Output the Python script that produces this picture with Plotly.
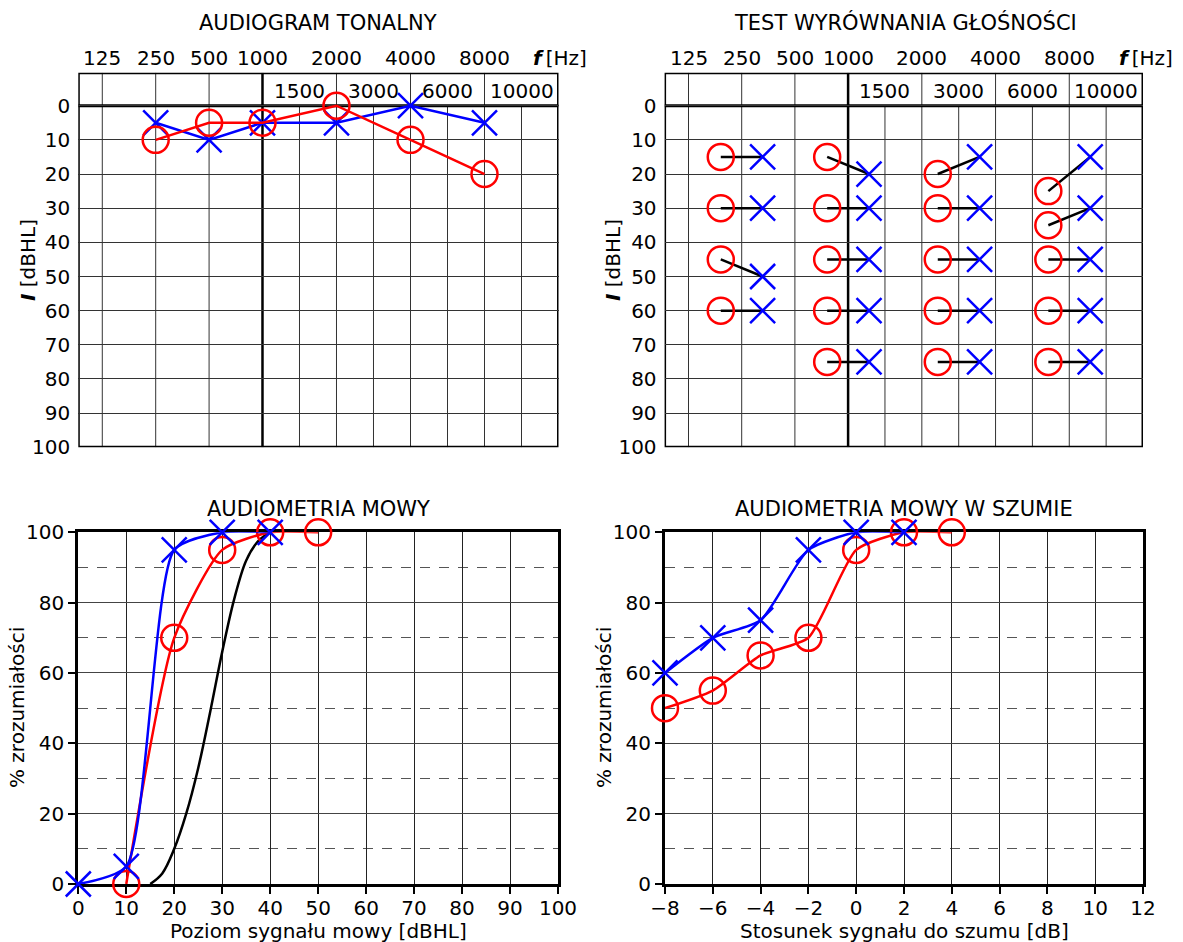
import numpy as np
import plotly.graph_objects as go

# ---------------- data ----------------
# Audiogram (pure tone), frequencies in Hz, thresholds in dBHL
AUD_FREQ = [250, 500, 1000, 2000, 4000, 8000]
AUD_RIGHT_EAR = [10, 5, 5, 0, 10, 20]      # red O
AUD_LEFT_EAR = [5, 10, 5, 5, 0, 5]         # blue X

# Loudness balance test: columns at these frequencies
LB_FREQ = [250, 1000, 3000, 8000]
LB_RIGHT = [[15, 30, 45, 60],
            [15, 30, 45, 60, 75],
            [20, 30, 45, 60, 75],
            [25, 35, 45, 60, 75]]
LB_LEFT = [[15, 30, 50, 60],
           [20, 30, 45, 60, 75],
           [15, 30, 45, 60, 75],
           [15, 30, 45, 60, 75]]

# Speech audiometry
SP_LEVEL_LEFT = [0, 10, 20, 30, 40]
SP_PCT_LEFT = [0, 5, 95, 100, 100]
SP_LEVEL_RIGHT = [10, 20, 30, 40, 50]
SP_PCT_RIGHT = [0, 70, 95, 100, 100]
NORM_LEVEL = [15, 17.5, 20, 22.5, 25, 27.5, 30, 32.5, 35, 37.5, 40]
NORM_PCT = [0, 3, 10, 20, 33, 49, 66, 81, 92, 97.5, 100]

# Speech in noise
SNR_LEFT = [-8, -6, -4, -2, 0, 2]
NOISE_PCT_LEFT = [60, 70, 75, 95, 100, 100]
SNR_RIGHT = [-8, -6, -4, -2, 0, 2, 4]
NOISE_PCT_RIGHT = [50, 55, 65, 70, 95, 100, 100]

# tick labels
TOP_FREQ_LABELS = [125, 250, 500, 1000, 2000, 4000, 8000]
HEADER_FREQ_LABELS = [1500, 3000, 6000, 10000]
DB_TICKS = list(range(0, 101, 10))

# ---------------- audiogram frequency scale ----------------
LEFT_OCT = 53.4 / 74.0
RIGHT_STEPS = [1000, 1500, 2000, 3000, 4000, 6000, 8000, 10000]


def fpos(f):
    if f <= 1000:
        return float(np.log2(f / 1000.0) * LEFT_OCT)
    return RIGHT_STEPS.index(f) * 0.5


X_RANGE_TOP = [-2.489, 4.0]
Y_RANGE_TOP = [100, -9.66]
PAIR_OFF = 21 / 74.0

W, H = 1183, 942
FONT = "DejaVu Sans"
FS = 20
FS_TITLE = 21
RED = "#ff0000"
BLUE = "#0000ff"


def dx(a, b):
    return [a / W, b / W]


def dy(top, bottom):
    return [1 - bottom / H, 1 - top / H]


fig = go.Figure()

O_MARK = dict(symbol="circle-open", size=26, color=RED, line=dict(color=RED, width=2.5))
X_MARK = dict(symbol="x-thin-open", size=25, color=BLUE, line=dict(color=BLUE, width=2.5))

# ---- top-left audiogram ----
fig.add_trace(go.Scatter(x=[fpos(f) for f in AUD_FREQ], y=AUD_LEFT_EAR, mode="lines+markers",
                         line=dict(color=BLUE, width=2.5), marker=X_MARK, cliponaxis=False,
                         xaxis="x", yaxis="y", showlegend=False))
fig.add_trace(go.Scatter(x=[fpos(f) for f in AUD_FREQ], y=AUD_RIGHT_EAR, mode="lines+markers",
                         line=dict(color=RED, width=2.5), marker=O_MARK, cliponaxis=False,
                         xaxis="x", yaxis="y", showlegend=False))

# ---- top-right loudness balance ----
lx, ly, ox, oy, xx, xy = [], [], [], [], [], []
for f, rs, ls in zip(LB_FREQ, LB_RIGHT, LB_LEFT):
    c = fpos(f)
    for r, l in zip(rs, ls):
        lx += [c - PAIR_OFF, c + PAIR_OFF, None]
        ly += [r, l, None]
        ox.append(c - PAIR_OFF)
        oy.append(r)
        xx.append(c + PAIR_OFF)
        xy.append(l)
fig.add_trace(go.Scatter(x=lx, y=ly, mode="lines", line=dict(color="black", width=2.5),
                         xaxis="x2", yaxis="y2", showlegend=False))
fig.add_trace(go.Scatter(x=ox, y=oy, mode="markers", marker=O_MARK, cliponaxis=False,
                         xaxis="x2", yaxis="y2", showlegend=False))
fig.add_trace(go.Scatter(x=xx, y=xy, mode="markers", marker=X_MARK, cliponaxis=False,
                         xaxis="x2", yaxis="y2", showlegend=False))

# ---- bottom-left speech ----
fig.add_trace(go.Scatter(x=NORM_LEVEL, y=NORM_PCT, mode="lines",
                         line=dict(color="black", width=2.5, shape="spline", smoothing=1),
                         xaxis="x3", yaxis="y3", showlegend=False))
fig.add_trace(go.Scatter(x=SP_LEVEL_RIGHT, y=SP_PCT_RIGHT, mode="lines+markers",
                         line=dict(color=RED, width=2.5, shape="spline", smoothing=0.6),
                         marker=O_MARK, cliponaxis=False, xaxis="x3", yaxis="y3",
                         showlegend=False))
fig.add_trace(go.Scatter(x=SP_LEVEL_LEFT, y=SP_PCT_LEFT, mode="lines+markers",
                         line=dict(color=BLUE, width=2.5, shape="spline", smoothing=0.6),
                         marker=X_MARK, cliponaxis=False, xaxis="x3", yaxis="y3",
                         showlegend=False))

# ---- bottom-right speech in noise ----
fig.add_trace(go.Scatter(x=SNR_RIGHT, y=NOISE_PCT_RIGHT, mode="lines+markers",
                         line=dict(color=RED, width=2.5, shape="spline", smoothing=0.6),
                         marker=O_MARK, cliponaxis=False, xaxis="x4", yaxis="y4",
                         showlegend=False))
fig.add_trace(go.Scatter(x=SNR_LEFT, y=NOISE_PCT_LEFT, mode="lines+markers",
                         line=dict(color=BLUE, width=2.5, shape="spline", smoothing=0.6),
                         marker=X_MARK, cliponaxis=False, xaxis="x4", yaxis="y4",
                         showlegend=False))

tickfont = dict(family=FONT, size=FS, color="black")

# top axes
for sfx, xd in [("", dx(78.3, 558.5)), ("2", dx(664.6, 1143))]:
    fig.update_layout(**{
        "xaxis" + sfx: dict(domain=xd, range=X_RANGE_TOP, showgrid=False, zeroline=False,
                            showticklabels=False, showline=False, fixedrange=True,
                            automargin=False, anchor="y" + sfx),
        "yaxis" + sfx: dict(domain=dy(72.7, 447.3), range=Y_RANGE_TOP, tickvals=DB_TICKS,
                            showgrid=True, gridcolor="#333", gridwidth=1, zeroline=False,
                            showline=False, ticks="", tickfont=tickfont, ticklabelstandoff=7,
                            automargin=False, fixedrange=True, anchor="x" + sfx),
    })

# bottom axes
common_x = dict(showgrid=True, gridcolor="#222", gridwidth=1, zeroline=False, showline=True,
                linecolor="black", linewidth=3, mirror=True, ticks="outside", ticklen=7,
                tickwidth=2, tickcolor="black", tickfont=tickfont, layer="below traces",
                automargin=False, fixedrange=True, ticklabelstandoff=-3)
common_y = dict(range=[0, 100], dtick=20, showgrid=True, gridcolor="#444", gridwidth=1,
                zeroline=False, showline=True, linecolor="black", linewidth=3, mirror=True,
                ticks="outside", ticklen=7, tickwidth=2, tickcolor="black", tickfont=tickfont,
                layer="below traces", automargin=False, fixedrange=True,
                minor=dict(dtick=10, showgrid=True, griddash="10px,9px", gridcolor="#555",
                           gridwidth=1, ticks=""))
fig.update_layout(
    xaxis3=dict(domain=dx(78.3, 558), range=[0, 100], dtick=10, anchor="y3", **common_x),
    yaxis3=dict(domain=dy(532.3, 884), anchor="x3", **common_y),
    xaxis4=dict(domain=dx(665, 1143), range=[-8, 12], dtick=2, anchor="y4", **common_x),
    yaxis4=dict(domain=dy(532.3, 884), anchor="x4", **common_y),
)

# grid shapes for the audiogram panels
shapes = []
for xr, yr in [("x", "y"), ("x2", "y2")]:
    for f in [125, 250, 500, 2000, 4000, 8000]:
        shapes.append(dict(type="line", xref=xr, yref=yr, x0=fpos(f), x1=fpos(f),
                           y0=Y_RANGE_TOP[1], y1=100, line=dict(color="#333", width=1),
                           layer="below"))
    for f in HEADER_FREQ_LABELS:
        shapes.append(dict(type="line", xref=xr, yref=yr, x0=fpos(f), x1=fpos(f),
                           y0=0, y1=100, line=dict(color="#333", width=1), layer="below"))
    shapes.append(dict(type="line", xref=xr, yref=yr, x0=0, x1=0, y0=Y_RANGE_TOP[1], y1=100,
                       line=dict(color="black", width=2.5), layer="below"))
    shapes.append(dict(type="line", xref=xr, yref=yr, x0=X_RANGE_TOP[0], x1=X_RANGE_TOP[1],
                       y0=0, y1=0, line=dict(color="black", width=3), layer="below"))
    shapes.append(dict(type="rect", xref=xr, yref=yr, x0=X_RANGE_TOP[0], x1=X_RANGE_TOP[1],
                       y0=Y_RANGE_TOP[1], y1=100, line=dict(color="black", width=3),
                       layer="below"))

annotations = []


def txt(text, x, y, xref="paper", yref="paper", angle=0, xanchor="center", size=FS):
    annotations.append(dict(text=text, x=x, y=y, xref=xref, yref=yref, showarrow=False,
                            xanchor=xanchor, yanchor="middle", textangle=angle,
                            font=dict(family=FONT, size=size, color="black")))


TOP_LABEL_Y = 1 - 58 / H
for xr, yr, fx in [("x", "y", 559.5), ("x2", "y2", 1146)]:
    for f in TOP_FREQ_LABELS:
        txt(str(f), fpos(f), TOP_LABEL_Y, xr, "paper")
    txt("<b><i>f</i></b>\u2009[Hz]", fx / W, TOP_LABEL_Y)
    for f in HEADER_FREQ_LABELS:
        txt(str(f), fpos(f), -4.4, xr, yr)

txt("AUDIOGRAM TONALNY", 318 / W, 1 - 23 / H, size=FS_TITLE)
txt("TEST WYRÓWNANIA GŁOŚNOŚCI", 905 / W, 1 - 23 / H, size=FS_TITLE)
txt("AUDIOMETRIA MOWY", 318 / W, 1 - 509 / H, size=FS_TITLE)
txt("AUDIOMETRIA MOWY W SZUMIE", 904 / W, 1 - 509 / H, size=FS_TITLE)
txt("<b><i>I</i></b> [dBHL]", 28 / W, 1 - 260 / H, angle=-90)
txt("<b><i>I</i></b> [dBHL]", 613 / W, 1 - 260 / H, angle=-90)
txt("% zrozumiałości", 17 / W, 1 - 708 / H, angle=-90)
txt("% zrozumiałości", 604 / W, 1 - 708 / H, angle=-90)
txt("Poziom sygnału mowy [dBHL]", 318 / W, 1 - 931 / H)
txt("Stosunek sygnału do szumu [dB]", 904 / W, 1 - 931 / H)

fig.update_layout(width=W, height=H, margin=dict(l=0, r=0, t=0, b=0, pad=0),
                  paper_bgcolor="white", plot_bgcolor="white", shapes=shapes,
                  annotations=annotations, showlegend=False,
                  font=dict(family=FONT, size=FS, color="black"))

fig.write_html("out.html", config={"displayModeBar": False},
               post_script="document.body.style.margin='0';document.body.style.overflow='hidden';")
